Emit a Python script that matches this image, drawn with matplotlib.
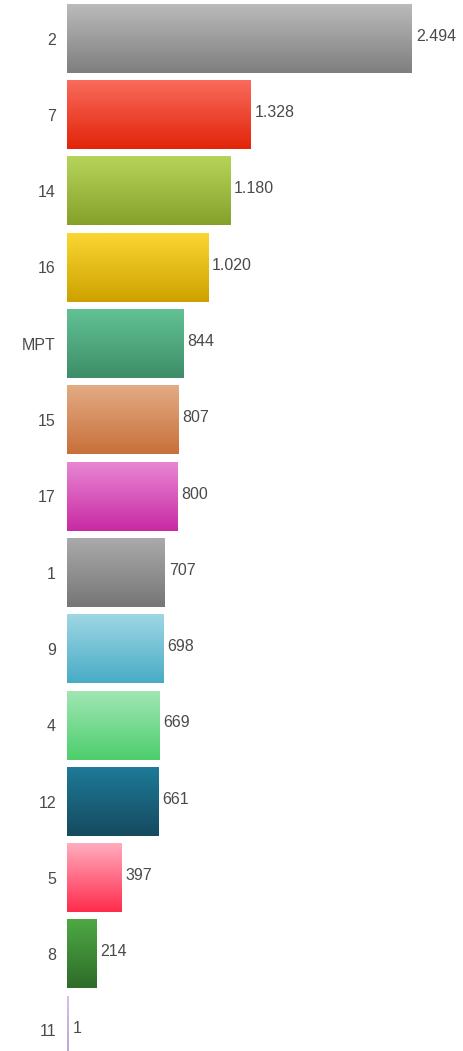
import numpy as np
import matplotlib
matplotlib.use("Agg")
import matplotlib.pyplot as plt
from matplotlib.colors import LinearSegmentedColormap

# categories, top to bottom
labels = ["2", "7", "14", "16", "MPT", "15", "17", "1", "9", "4", "12", "5", "8", "11"]
values = [2494, 1328, 1180, 1020, 844, 807, 800, 707, 698, 669, 661, 397, 214, 1]
# gradient colours (top, bottom) per bar
top_colors = ["#bababa", "#f96b5b", "#b6d45a", "#fbd632", "#62c194", "#e3ab84",
              "#e786d3", "#aaaaaa", "#9fd6e4", "#a0e6b4", "#1d7a98", "#ffacbe",
              "#4ea844", "#d4c0ea"]
bot_colors = ["#7f7f7f", "#e22409", "#86a12a", "#cda200", "#3d8e68", "#c8703a",
              "#c92aa4", "#767676", "#48acc6", "#4dce6c", "#164a5f", "#ff2c4d",
              "#2e6c29", "#b89ed8"]

plt.rcParams['font.family'] = ['Liberation Sans', 'DejaVu Sans']

fig = plt.figure(figsize=(4.64, 10.51), dpi=100)
ax = fig.add_axes([67 / 464, 0, 1 - 67 / 464, 1])

h = 0.9
xmax = 2870
for i, (lab, v) in enumerate(zip(labels, values)):
    cmap = LinearSegmentedColormap.from_list("g%d" % i, [top_colors[i], bot_colors[i]])
    grad = np.linspace(0, 1, 64).reshape(-1, 1)
    w = max(v, 14)  # tiny bars still get a visible sliver
    ax.imshow(grad, cmap=cmap, aspect='auto', origin='upper',
              extent=(0, w, i + h / 2, i - h / 2), interpolation='bilinear')
    txt = "{:,}".format(v).replace(",", ".")
    ax.text(w + 28, i - 0.03, txt, va='center', ha='left', fontsize=11.5, color='#4a4a4a')

ax.set_xlim(0, xmax)
ax.set_ylim(13.27, -0.505)
ax.set_yticks(range(len(labels)))
ax.set_yticklabels(labels, fontsize=11.5, color='#4a4a4a')
ax.tick_params(axis='y', length=0, pad=8)
ax.set_xticks([])
for s in ax.spines.values():
    s.set_visible(False)

fig.savefig("out.png", dpi=100)
